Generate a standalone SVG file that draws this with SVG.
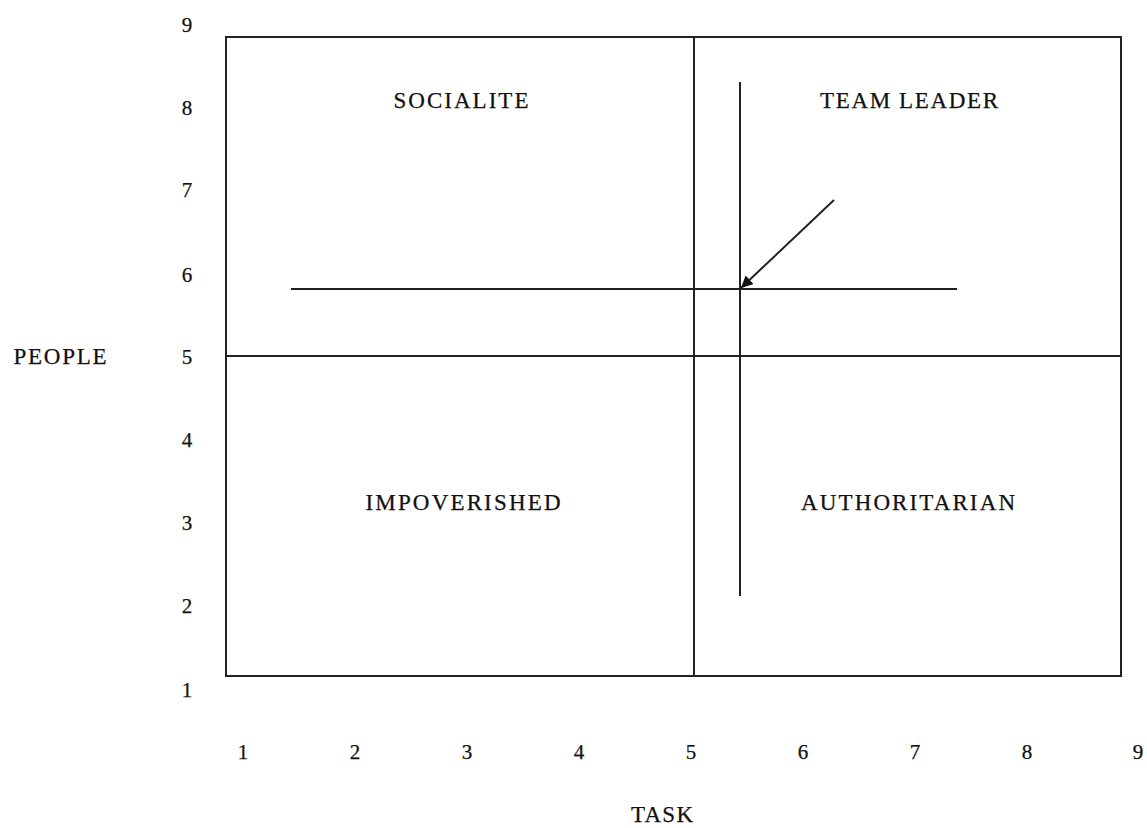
<svg xmlns="http://www.w3.org/2000/svg" width="1147" height="828" viewBox="0 0 1147 828">
<style>
text{font-family:"Liberation Serif","Times New Roman",serif;font-size:21px;fill:#111;text-anchor:middle;stroke:#111;stroke-width:0.25}
.lbl{font-size:23px}
.ln{stroke:#222;stroke-width:2;fill:none}
</style>
<defs>
<marker id="ah" markerWidth="12" markerHeight="12" refX="10" refY="5" orient="auto" markerUnits="userSpaceOnUse" viewBox="0 0 10 10">
<path d="M0,0 L10,5 L0,10 z" fill="#111"/>
</marker>
</defs>
<rect width="1147" height="828" fill="#fff"/>
<g id="grid">
<rect class="ln" x="226" y="37" width="895" height="639"/>
<line class="ln" x1="694" y1="37" x2="694" y2="676"/>
<line class="ln" x1="226" y1="356" x2="1121" y2="356"/>
</g>
<g id="connectors">
<line class="ln" x1="740" y1="82" x2="740" y2="596"/>
<line class="ln" x1="291" y1="289" x2="957" y2="289"/>
<line class="ln" x1="834" y1="200" x2="741" y2="288" stroke-width="1.8" marker-end="url(#ah)"/>
</g>
<g id="socialite"><text class="lbl" x="461" y="108" textLength="135" lengthAdjust="spacing">SOCIALITE</text></g>
<g id="team-leader"><text class="lbl" x="909" y="108" textLength="178" lengthAdjust="spacing">TEAM LEADER</text></g>
<g id="impoverished"><text class="lbl" x="463" y="510" textLength="195" lengthAdjust="spacing">IMPOVERISHED</text></g>
<g id="authoritarian"><text class="lbl" x="908" y="510" textLength="214" lengthAdjust="spacing">AUTHORITARIAN</text></g>
<g id="y-axis">
<text x="187" y="32">9</text>
<text x="187" y="115">8</text>
<text x="187" y="197">7</text>
<text x="187" y="282">6</text>
<text x="187" y="364">5</text>
<text x="187" y="447">4</text>
<text x="187" y="530">3</text>
<text x="187" y="613">2</text>
<text x="187" y="697">1</text>
<text class="lbl" x="60" y="364" textLength="93" lengthAdjust="spacing">PEOPLE</text>
</g>
<g id="x-axis">
<text x="243" y="759">1</text>
<text x="355" y="759">2</text>
<text x="467" y="759">3</text>
<text x="579" y="759">4</text>
<text x="691" y="759">5</text>
<text x="803" y="759">6</text>
<text x="915" y="759">7</text>
<text x="1027" y="759">8</text>
<text x="1138" y="759">9</text>
<text class="lbl" x="662" y="822" textLength="62" lengthAdjust="spacing">TASK</text>
</g>
</svg>
